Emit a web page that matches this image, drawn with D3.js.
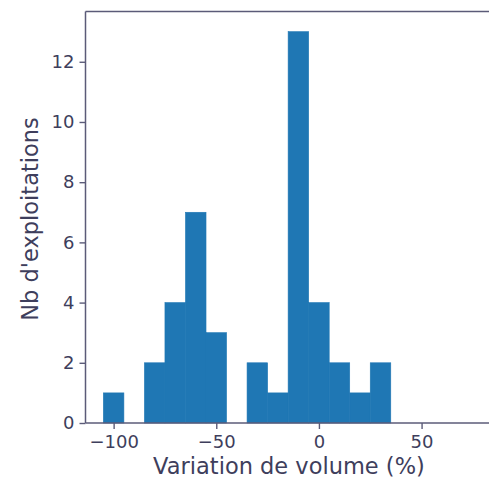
<!DOCTYPE html>
<html>
<head>
<meta charset="utf-8">
<script src="https://cdn.jsdelivr.net/npm/d3@7"></script>
<style>
  body { margin: 0; background: #fff; }
  text { font-family: "DejaVu Sans", sans-serif; }
</style>
</head>
<body>
<script>
const w = 489;
const h = 482;

// histogram bins (lower edges, width 10) and counts
const binStarts = [-105, -95, -85, -75, -65, -55, -45, -35, -25, -15, -5, 5, 15, 25];
const binWidth = 10;
const counts = [1, 0, 2, 4, 7, 3, 0, 2, 1, 13, 4, 2, 1, 2];
const xTicks = [-100, -50, 0, 50];
const yTicks = [0, 2, 4, 6, 8, 10, 12];

const axisColor = "#5b5b78";
const textColor = "#3e3e5c";
const barColor = "#1f77b4";

const plotLeft = 85.5, plotTop = 11.5, plotBottom = 423;

const svg = d3.select("body")
  .append("svg")
  .attr("width", w)
  .attr("height", h);

// plot area runs slightly past the right edge of the picture
const x = d3.scaleLinear().domain([-113.7, 84.5]).range([plotLeft, plotLeft + 198.2 * 2.053]);
const y = d3.scaleLinear().domain([0, 13.67]).range([plotBottom, plotTop]);

svg.append("g")
  .selectAll("rect")
  .data(binStarts)
  .enter()
  .append("rect")
  .attr("x", d => x(d))
  .attr("width", d => x(d + binWidth) - x(d))
  .attr("y", (d, i) => y(counts[i]))
  .attr("height", (d, i) => y(0) - y(counts[i]))
  .attr("fill", barColor)
  .attr("stroke", barColor)
  .attr("stroke-width", (d, i) => counts[i] > 0 ? 0.6 : 0);

// x axis
const xAxis = svg.append("g")
  .attr("transform", "translate(0," + plotBottom + ")")
  .call(d3.axisBottom(x).tickValues(xTicks).tickSize(6).tickPadding(6)
    .tickFormat(d => d < 0 ? "\u2212" + Math.abs(d) : d));
xAxis.select(".domain").remove();
xAxis.selectAll("line").attr("stroke", axisColor).attr("stroke-width", 1.4);
xAxis.selectAll("text").attr("fill", textColor).attr("font-size", 18);

// y axis
const yAxis = svg.append("g")
  .attr("transform", "translate(" + plotLeft + ",0)")
  .call(d3.axisLeft(y).tickValues(yTicks).tickSize(6).tickPadding(5));
yAxis.select(".domain").remove();
yAxis.selectAll("line").attr("stroke", axisColor).attr("stroke-width", 1.4);
yAxis.selectAll("text").attr("fill", textColor).attr("font-size", 18);

// spines
const plotRight = x.range()[1];
svg.append("line").attr("x1", plotLeft).attr("x2", plotLeft).attr("y1", plotTop).attr("y2", plotBottom)
  .attr("stroke", axisColor).attr("stroke-width", 1.5);
svg.append("line").attr("x1", plotLeft).attr("x2", plotRight).attr("y1", plotBottom).attr("y2", plotBottom)
  .attr("stroke", axisColor).attr("stroke-width", 1.5);
svg.append("line").attr("x1", plotLeft).attr("x2", plotRight).attr("y1", plotTop).attr("y2", plotTop)
  .attr("stroke", axisColor).attr("stroke-width", 1.5);

// labels
svg.append("text")
  .attr("x", (plotLeft + plotRight) / 2)
  .attr("y", 474)
  .attr("text-anchor", "middle")
  .attr("font-size", 22.5)
  .attr("fill", textColor)
  .text("Variation de volume (%)");

svg.append("text")
  .attr("transform", "translate(38,219) rotate(-90)")
  .attr("text-anchor", "middle")
  .attr("font-size", 22.5)
  .attr("fill", textColor)
  .text("Nb d'exploitations");
</script>
</body>
</html>
